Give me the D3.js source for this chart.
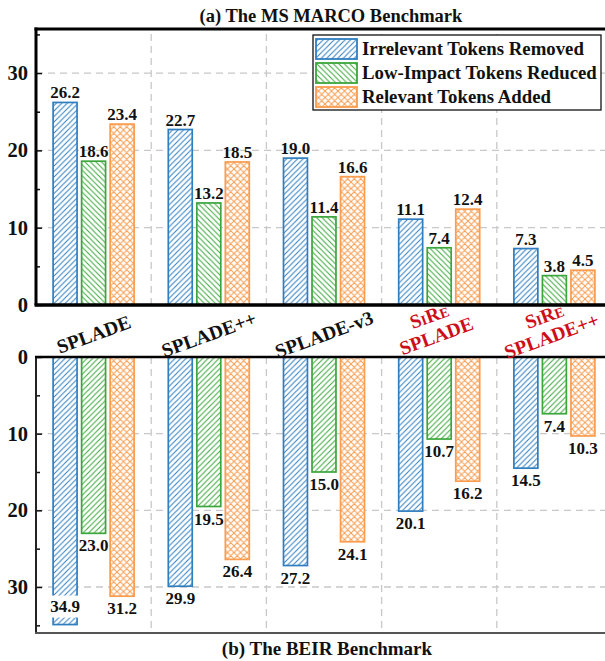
<!DOCTYPE html>
<html>
<head>
<meta charset="utf-8">
<script src="https://cdn.jsdelivr.net/npm/d3@7"></script>
<style>
  html, body { margin: 0; padding: 0; background: #fff; }
  svg { display: block; }
  text { font-family: "Liberation Serif", "Times New Roman", serif; font-weight: bold; }
</style>
</head>
<body>
<script>
// ---------- data ----------
const categories = ["SPLADE", "SPLADE++", "SPLADE-v3", "SiRe SPLADE", "SiRe SPLADE++"];
const categoryPrefix = ["", "", "", "SiRe", "SiRe"];
const categoryBase = ["SPLADE", "SPLADE++", "SPLADE-v3", "SPLADE", "SPLADE++"];
const seriesNames = ["Irrelevant Tokens Removed", "Low-Impact Tokens Reduced", "Relevant Tokens Added"];

const msmarcoRemoved = [26.2, 22.7, 19.0, 11.1, 7.3];
const msmarcoReduced = [18.6, 13.2, 11.4, 7.4, 3.8];
const msmarcoAdded   = [23.4, 18.5, 16.6, 12.4, 4.5];

const beirRemoved = [34.9, 29.9, 27.2, 20.1, 14.5];
const beirReduced = [23.0, 19.5, 15.0, 10.7, 7.4];
const beirAdded   = [31.2, 26.4, 24.1, 16.2, 10.3];

const majorTicks = [0, 10, 20, 30];
const minorTicks = [5, 15, 25, 35];
const topTitle = "(a) The MS MARCO Benchmark";
const bottomTitle = "(b) The BEIR Benchmark";

// ---------- setup ----------
const W = 605, H = 661;
const colors = ["#2f7ec0", "#3ba63b", "#fb9c4e"];
const svg = d3.select("body").append("svg").attr("width", W).attr("height", H);
svg.append("rect").attr("width", W).attr("height", H).attr("fill", "#fff");

const defs = svg.append("defs");
function pattern(id, color, kind) {
  const s = 5.5;
  const p = defs.append("pattern").attr("id", id).attr("patternUnits", "userSpaceOnUse")
    .attr("width", kind === "cross" ? 6.5 : s).attr("height", kind === "cross" ? 6.5 : s);
  const fwd = (k) => `M0,${k} L${k},0 M${-1},1 L1,${-1} M${k - 1},${k + 1} L${k + 1},${k - 1}`;
  const back = (k) => `M0,0 L${k},${k} M${-1},${k - 1} L1,${k + 1} M${k - 1},${-1} L${k + 1},1`;
  let d;
  if (kind === "fwd") d = fwd(s);
  else if (kind === "back") d = back(s);
  else d = fwd(6.5) + " " + back(6.5);
  p.append("rect").attr("width", 10).attr("height", 10).attr("fill", "#fff");
  p.append("path").attr("d", d).attr("stroke", color).attr("stroke-width", 1).attr("fill", "none");
}
pattern("pBlue", colors[0], "fwd");
pattern("pGreenBack", colors[1], "back");
pattern("pGreenFwd", colors[1], "fwd");
pattern("pOrange", colors[2], "cross");

const topFills = ["url(#pBlue)", "url(#pGreenBack)", "url(#pOrange)"];
const botFills = ["url(#pBlue)", "url(#pGreenFwd)", "url(#pOrange)"];

const left = 36, right = 612;
const x0 = d3.scaleBand().domain(categories).range([left, right]);
const bw = x0.bandwidth();
const x1 = d3.scaleBand().domain(seriesNames).range([bw / 2 - 40.5, bw / 2 + 40.5]).paddingInner(0.16);

const yTop = d3.scaleLinear().domain([0, 35.7]).range([305, 29]);
const yBot = d3.scaleLinear().domain([0, 36]).range([357, 633]);

const fmt = d3.format(".1f");

function drawPanel(y, values, fills, isTop) {
  const g = svg.append("g");
  const y0 = y(0), yEnd = y.range()[1];
  // grid
  g.selectAll(".hg").data(majorTicks.filter(t => t > 0)).enter().append("line")
    .attr("x1", left).attr("x2", W).attr("y1", d => y(d)).attr("y2", d => y(d))
    .attr("stroke", "#c8c8c8").attr("stroke-width", 1.3).attr("stroke-dasharray", "7,5");
  g.selectAll(".vg").data(categories.slice(1)).enter().append("line")
    .attr("x1", d => x0(d)).attr("x2", d => x0(d)).attr("y1", y0).attr("y2", yEnd)
    .attr("stroke", "#c8c8c8").attr("stroke-width", 1.3).attr("stroke-dasharray", "7,5");

  // bars
  const rows = [];
  categories.forEach((c, i) => seriesNames.forEach((s, j) => rows.push({ c, s, j, v: values[j][i] })));
  g.selectAll(".bar").data(rows).enter().append("rect")
    .attr("x", d => x0(d.c) + x1(d.s))
    .attr("width", x1.bandwidth())
    .attr("y", d => Math.min(y(0), y(d.v)))
    .attr("height", d => Math.abs(y(d.v) - y(0)))
    .attr("fill", d => fills[d.j])
    .attr("stroke", d => colors[d.j]).attr("stroke-width", 1.7);

  // labels
  rows.forEach(d => {
    const cx = x0(d.c) + x1(d.s) + x1.bandwidth() / 2;
    let ty, inside = false;
    if (isTop) ty = y(d.v) - 4;
    else {
      ty = y(d.v) + 18;
      if (ty > yEnd - 4) { ty = y(d.v) - 13; inside = true; }
    }
    const t = g.append("text").attr("x", cx).attr("y", ty).attr("text-anchor", "middle")
      .attr("font-size", 17).attr("fill", "#111").text(fmt(d.v));
    if (inside) {
      const b = t.node().getBBox();
      g.insert("rect", () => t.node()).attr("x", b.x).attr("y", b.y - 1).attr("width", b.width).attr("height", b.height + 3).attr("fill", "#fff");
    }
  });

  // axes
  const ax = d3.axisLeft(y).tickValues(majorTicks).tickSize(-6).tickSizeOuter(0).tickPadding(8).tickFormat(d3.format("d"));
  const ag = g.append("g").attr("transform", `translate(${left},0)`).call(ax);
  ag.select(".domain").remove();
  ag.selectAll(".tick line").attr("stroke", "#111").attr("stroke-width", 1.5);
  ag.selectAll(".tick text").attr("font-size", 20.5).attr("fill", "#111")
    .attr("font-family", "Liberation Serif, serif").attr("font-weight", "bold");
  const mx = d3.axisLeft(y).tickValues(minorTicks).tickSize(-4).tickSizeOuter(0).tickFormat("");
  const mg = g.append("g").attr("transform", `translate(${left},0)`).call(mx);
  mg.select(".domain").remove();
  mg.selectAll(".tick line").attr("stroke", "#111").attr("stroke-width", 1.5);

  if (isTop) {
    g.append("line").attr("x1", left).attr("x2", left).attr("y1", yEnd - 1.5).attr("y2", y0).attr("stroke", "#000").attr("stroke-width", 3);
    g.append("line").attr("x1", left - 1.5).attr("x2", W).attr("y1", yEnd).attr("y2", yEnd).attr("stroke", "#000").attr("stroke-width", 3);
    g.append("line").attr("x1", left - 1.5).attr("x2", W).attr("y1", y0).attr("y2", y0).attr("stroke", "#000").attr("stroke-width", 3.5);
  } else {
    g.append("line").attr("x1", left).attr("x2", left).attr("y1", y0).attr("y2", yEnd).attr("stroke", "#222").attr("stroke-width", 2);
    g.append("line").attr("x1", left - 1).attr("x2", W).attr("y1", yEnd).attr("y2", yEnd).attr("stroke", "#555").attr("stroke-width", 2);
    g.append("line").attr("x1", left - 1).attr("x2", W).attr("y1", y0).attr("y2", y0).attr("stroke", "#000").attr("stroke-width", 2.5);
  }
}

drawPanel(yTop, [msmarcoRemoved, msmarcoReduced, msmarcoAdded], topFills, true);
drawPanel(yBot, [beirRemoved, beirReduced, beirAdded], botFills, false);

// category labels
categories.forEach((c, i) => {
  const cx = x0(c) + bw / 2;
  const two = categoryPrefix[i] !== "";
  const g = svg.append("g").attr("transform", `translate(${two ? cx - 6 : cx},${two ? 327 : 334}) rotate(-20)`);
  if (two) {
    const t1 = g.append("text").attr("text-anchor", "middle").attr("y", -5).attr("fill", "#cc0f1a").attr("font-size", 19.5);
    t1.append("tspan").text("S");
    t1.append("tspan").attr("font-size", 14).text("I");
    t1.append("tspan").text("R");
    t1.append("tspan").attr("font-size", 14).text("E");
    g.append("text").attr("text-anchor", "middle").attr("y", 16).attr("fill", "#cc0f1a").attr("font-size", 19.5).text(categoryBase[i]);
  } else {
    g.append("text").attr("text-anchor", "middle").attr("y", 7).attr("fill", "#111").attr("font-size", 19.5).text(categoryBase[i]);
  }
});

// legend
const lg = svg.append("g");
lg.append("rect").attr("x", 313).attr("y", 35).attr("width", 288).attr("height", 75)
  .attr("fill", "#fff").attr("stroke", "#111").attr("stroke-width", 1.3);
seriesNames.forEach((s, j) => {
  const yy = 39 + j * 24;
  lg.append("rect").attr("x", 316).attr("y", yy).attr("width", 41).attr("height", 20)
    .attr("fill", topFills[j]).attr("stroke", colors[j]).attr("stroke-width", 1.8);
  lg.append("text").attr("x", 362).attr("y", yy + 16).attr("font-size", 18.8).attr("fill", "#111").text(s);
});

// titles
svg.append("text").attr("x", 331).attr("y", 22).attr("text-anchor", "middle").attr("font-size", 18.5).attr("fill", "#111").text(topTitle);
svg.append("text").attr("x", 327).attr("y", 655).attr("text-anchor", "middle").attr("font-size", 19).attr("fill", "#111").text(bottomTitle);
</script>
</body>
</html>
